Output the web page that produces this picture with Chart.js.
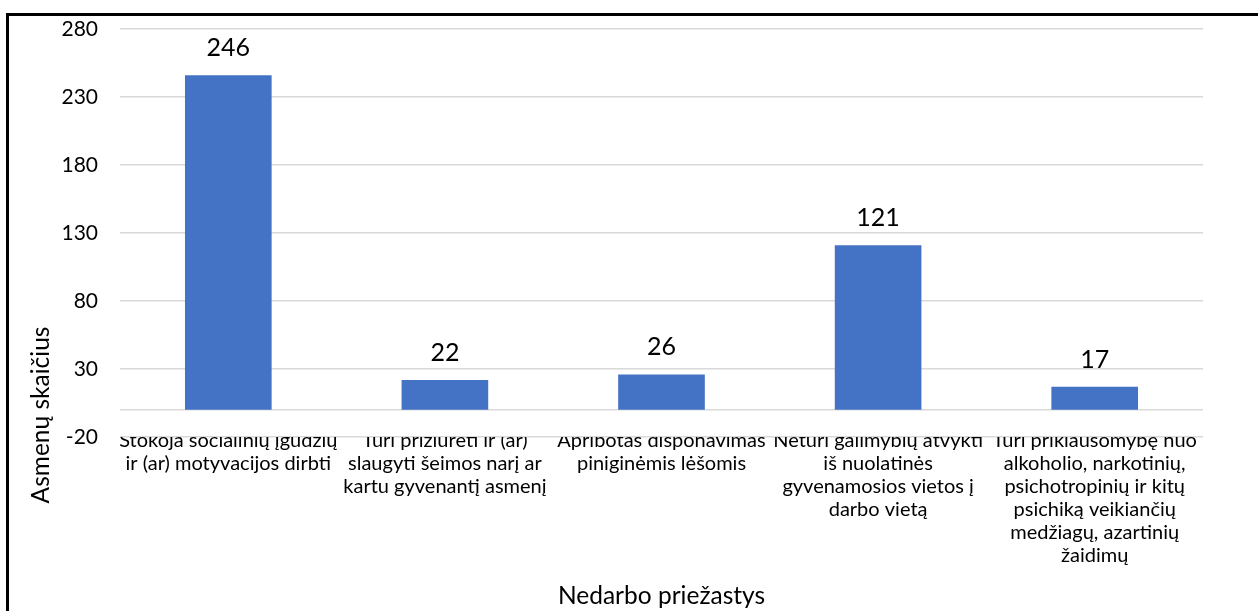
<!DOCTYPE html>
<html>
<head>
<meta charset="utf-8">
<script src="https://cdn.jsdelivr.net/npm/chart.js@4.4.1/dist/chart.umd.min.js"></script>
<style>
  html, body { margin: 0; padding: 0; background: #fff; overflow: hidden; }
  #frame {
    position: absolute; left: 6px; top: 13px;
    width: 1400px; height: 800px;
    border-left: 3px solid #000; border-top: 3px solid #000;
  }
  #wrap { position: absolute; left: 0; top: 0; width: 1258px; height: 611px; }
</style>
</head>
<body>
<div id="frame"></div>
<div id="wrap"><canvas id="chart1"></canvas></div>
<script>
const categories = [
  ['Stokoja socialinių įgūdžių', 'ir (ar) motyvacijos dirbti'],
  ['Turi prižiūrėti ir (ar)', 'slaugyti šeimos narį ar', 'kartu gyvenantį asmenį'],
  ['Apribotas disponavimas', 'piniginėmis lėšomis'],
  ['Neturi galimybių atvykti', 'iš nuolatinės', 'gyvenamosios vietos į', 'darbo vietą'],
  ['Turi priklausomybę nuo', 'alkoholio, narkotinių,', 'psichotropinių ir kitų', 'psichiką veikiančių', 'medžiagų, azartinių', 'žaidimų']
];
const values = [246, 22, 26, 121, 17];
const yTicks = [-20, 30, 80, 130, 180, 230, 280];

const FONT = 'Lato, Carlito, Calibri, sans-serif';

// value labels above bars, zero line, y title
const extras = {
  id: 'extras',
  beforeDatasetsDraw(chart) {
    const ctx = chart.ctx;
    const y0 = chart.scales.y.getPixelForValue(0);
    ctx.save();
    ctx.strokeStyle = '#d9d9d9';
    ctx.lineWidth = 1.5;
    ctx.beginPath();
    ctx.moveTo(chart.chartArea.left, y0);
    ctx.lineTo(chart.chartArea.right, y0);
    ctx.stroke();
    ctx.restore();
  },
  afterDatasetsDraw(chart) {
    const ctx = chart.ctx;
    const meta = chart.getDatasetMeta(0);
    ctx.save();
    ctx.font = '25px ' + FONT;
    ctx.fillStyle = '#000';
    ctx.textAlign = 'center';
    ctx.textBaseline = 'alphabetic';
    meta.data.forEach((bar, i) => {
      ctx.fillText(values[i], bar.x, bar.y - 19);
    });
    ctx.restore();
  },
  afterDraw(chart) {
    const ctx = chart.ctx;
    ctx.save();
    ctx.translate(41, 415);
    ctx.rotate(-Math.PI / 2);
    ctx.font = '24.5px ' + FONT;
    ctx.fillStyle = '#000';
    ctx.textAlign = 'center';
    ctx.textBaseline = 'middle';
    ctx.fillText('Asmenų skaičius', 0, 0);
    ctx.restore();
  }
};

const config = {
  type: 'bar',
  data: {
    labels: categories,
    datasets: [{
      data: values,
      backgroundColor: '#4472c4',
      categoryPercentage: 1,
      barPercentage: 0.4
    }]
  },
  options: {
    responsive: false,
    animation: false,
    layout: {
      padding: { left: 0, right: 55, top: 0, bottom: 0 }
    },
    plugins: {
      legend: { display: false },
      tooltip: { enabled: false }
    },
    scales: {
      x: {
        grid: { display: false, drawTicks: false },
        border: { display: false },
        ticks: {
          color: '#000',
          font: { family: FONT, size: 20, lineHeight: '23px' },
          padding: -8,
          maxRotation: 0,
          autoSkip: false
        },
        title: {
          display: true,
          text: 'Nedarbo priežastys',
          color: '#000',
          font: { family: FONT, size: 24.5 },
          padding: { top: 0, bottom: 0 }
        },
        afterFit(scale) { scale.height = 174; }
      },
      y: {
        min: -20,
        max: 280,
        grid: { color: '#d9d9d9', lineWidth: 1.5, drawTicks: false },
        border: { display: false },
        ticks: {
          color: '#000',
          font: { family: FONT, size: 21 },
          padding: 22
        },
        afterBuildTicks(scale) {
          scale.ticks = yTicks.map(v => ({ value: v }));
        },
        afterFit(scale) {
          scale.width = 120;
          scale.paddingTop = 29;
          scale.paddingBottom = 0;
        }
      }
    }
  },
  plugins: [extras]
};

const canvas = document.getElementById('chart1');
canvas.width = 1258;
canvas.height = 611;
var myChart = new Chart(canvas, config);
</script>
</body>
</html>
